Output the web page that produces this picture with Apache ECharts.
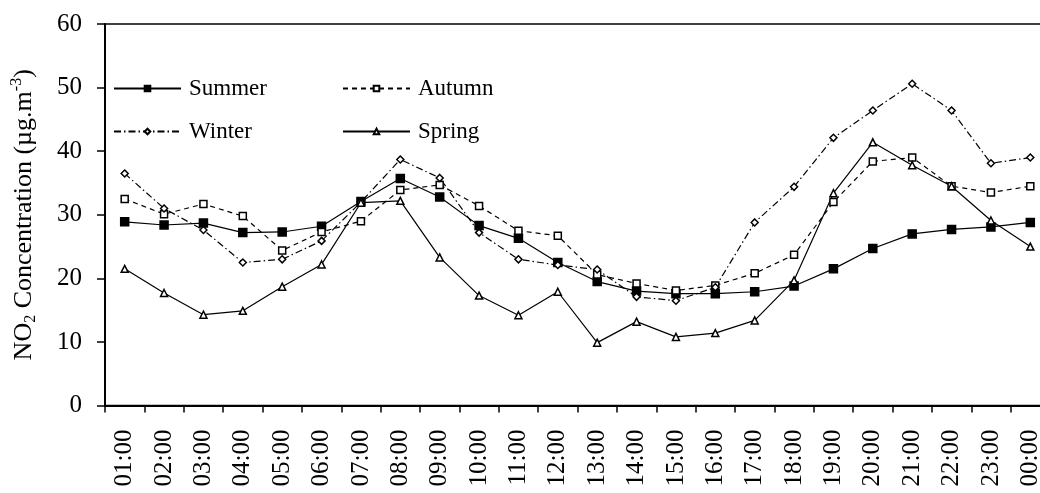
<!DOCTYPE html>
<html>
<head>
<meta charset="utf-8">
<title>NO2 diurnal variation by season</title>
<script src="https://cdn.jsdelivr.net/npm/echarts@6/dist/echarts.min.js"></script>
<style>
  html, body { margin: 0; padding: 0; background: #fff; }
  #chart { width: 1040px; height: 493px; }
</style>
</head>
<body>
<div id="chart"></div>
<script>
// Hour of day
const hours = ['01:00','02:00','03:00','04:00','05:00','06:00','07:00','08:00','09:00','10:00','11:00','12:00',
               '13:00','14:00','15:00','16:00','17:00','18:00','19:00','20:00','21:00','22:00','23:00','00:00'];

// Mean NO2 concentration per season (µg.m-3)
const summer = [28.9, 28.4, 28.7, 27.2, 27.3, 28.2, 32.1, 35.7, 32.8, 28.3, 26.3, 22.5,
                19.5, 18.0, 17.6, 17.6, 17.9, 18.8, 21.5, 24.7, 27.0, 27.7, 28.1, 28.8];
const autumn = [32.5, 30.1, 31.7, 29.8, 24.4, 27.3, 29.0, 33.9, 34.7, 31.4, 27.5, 26.7,
                20.6, 19.2, 18.1, 18.9, 20.8, 23.7, 32.0, 38.4, 39.0, 34.5, 33.5, 34.5];
const winter = [36.5, 31.0, 27.6, 22.5, 23.0, 25.9, 32.0, 38.7, 35.8, 27.2, 23.0, 22.1,
                21.4, 17.1, 16.5, 18.6, 28.8, 34.4, 42.1, 46.4, 50.6, 46.4, 38.1, 39.0];
const spring = [21.5, 17.7, 14.3, 14.9, 18.7, 22.2, 31.9, 32.2, 23.3, 17.3, 14.2, 17.9,
                 9.9, 13.2, 10.8, 11.4, 13.4, 19.7, 33.4, 41.4, 37.8, 34.5, 29.1, 25.0];

// Y axis scale
const yMin = 0, yMax = 60, yStep = 10;

const FONT = '"Liberation Serif", "DejaVu Serif", serif';

function legendAt(name, left, top) {
  return {
    data: [name],
    left: left, top: top,
    itemWidth: 67, itemHeight: 7, itemGap: 0,
    padding: 0,
    textStyle: { fontFamily: FONT, fontSize: 23, color: '#000', padding: [0, 0, 0, 3] },
    inactiveColor: '#000'
  };
}

function makeSeries(name, data, symbol, size, fill, dash) {
  return {
    name: name,
    type: 'line',
    data: data,
    symbol: symbol,
    symbolSize: size,
    showAllSymbol: true,
    z: 3,
    lineStyle: { color: '#000', width: 1.2, type: dash },
    itemStyle: { color: fill, borderColor: '#000', borderWidth: 1.5 },
    emphasis: { disabled: true },
    animation: false
  };
}

const chart = echarts.init(document.getElementById('chart'), null, { renderer: 'canvas' });
chart.setOption({
  backgroundColor: '#fff',
  animation: false,
  grid: {
    left: 105, top: 24, right: -10, bottom: 87.4,
    show: true, borderColor: '#000', borderWidth: 1.5,
    outerBoundsMode: 'none'
  },
  legend: [
    legendAt('Summer', 113, 77),
    legendAt('Autumn', 342, 77),
    legendAt('Winter', 113, 120),
    legendAt('Spring', 342, 120)
  ],
  xAxis: {
    type: 'category',
    data: hours,
    boundaryGap: true,
    axisLine: { show: true, lineStyle: { color: '#000', width: 2 } },
    axisTick: { show: true, inside: false, length: 7, interval: 0, lineStyle: { color: '#000', width: 1.5 } },
    axisLabel: {
      interval: 0, rotate: 90, margin: 24,
      fontFamily: FONT, fontSize: 25, color: '#000'
    },
    splitLine: { show: false }
  },
  yAxis: {
    type: 'value',
    min: yMin, max: yMax, interval: yStep,
    name: 'NO{sub|2} Concentration (µg.m{sup|-3})',
    nameLocation: 'middle',
    nameRotate: 90,
    nameGap: 66,
    nameTextStyle: {
      fontFamily: FONT, fontSize: 26, color: '#000',
      rich: {
        sub: { fontFamily: FONT, fontSize: 16, color: '#000', padding: [14, 0, 0, 0] },
        sup: { fontFamily: FONT, fontSize: 16, color: '#000', padding: [0, 0, 14, 0] }
      }
    },
    axisLine: { show: true, lineStyle: { color: '#000', width: 2 } },
    axisTick: { show: true, inside: false, length: 8, lineStyle: { color: '#000', width: 1.5 } },
    axisLabel: { margin: 23, fontFamily: FONT, fontSize: 25, color: '#000' },
    splitLine: { show: false }
  },
  series: [
    makeSeries('Summer', summer, 'rect', 8, '#000', 'solid'),
    makeSeries('Autumn', autumn, 'rect', 7, '#fff', [5, 4]),
    makeSeries('Winter', winter, 'diamond', 7, '#fff', [7, 3, 1.5, 3]),
    makeSeries('Spring', spring, 'triangle', 7, '#fff', 'solid')
  ]
});
</script>
</body>
</html>
